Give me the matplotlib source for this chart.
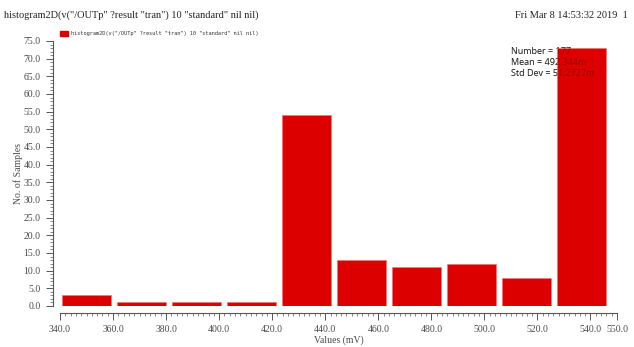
import numpy as np
import matplotlib
matplotlib.use("Agg")
import matplotlib.pyplot as plt
from matplotlib.ticker import MultipleLocator, FixedLocator

# histogram of the OUTp transient result, 10 equal bins
counts = [3, 1, 1, 1, 54, 13, 11, 12, 8, 73]
bin_lo, bin_hi = 340.6, 548.1
x_major = [340, 360, 380, 400, 420, 440, 460, 480, 500, 520, 540, 550]
y_major = [0, 5, 10, 15, 20, 25, 30, 35, 40, 45, 50, 55, 60, 65, 70, 75]
stats = ["Number = 177", "Mean = 492.344m", "Std Dev = 51.2727m"]
expr = 'histogram2D(v("/OUTp" ?result "tran") 10 "standard" nil nil)'
stamp = "Fri Mar 8 14:53:32 2019  1"

red = "#dc0000"
ink = "#4a4a4a"
serif = ["Liberation Serif", "DejaVu Serif"]

fig = plt.figure(figsize=(6.34, 3.47), dpi=100)
ax = fig.add_axes([0.0946, 0.1182, 0.8786, 0.7637])

edges = np.linspace(bin_lo, bin_hi, len(counts) + 1)
step = edges[1] - edges[0]
ax.bar(edges[:-1], counts, width=step * 0.9, align="edge",
       color=red, edgecolor="#f07070", linewidth=0.4, zorder=3)

ax.set_xlim(340, 550)
ax.set_ylim(0, 75)

for s in ("top", "right"):
    ax.spines[s].set_visible(False)
for s in ("left", "bottom"):
    ax.spines[s].set_position(("outward", 5))
    ax.spines[s].set_color("#555555")
    ax.spines[s].set_linewidth(0.8)

ax.xaxis.set_major_locator(FixedLocator(x_major))
ax.xaxis.set_minor_locator(MultipleLocator(2))
ax.yaxis.set_major_locator(FixedLocator(y_major))
ax.yaxis.set_minor_locator(MultipleLocator(1))
ax.set_xticklabels([f"{v:.1f}" for v in x_major])
ax.set_yticklabels([f"{v:.1f}" for v in y_major])
ax.tick_params(which="major", length=5, width=0.7, color="#555555",
               labelsize=7, labelcolor=ink, pad=4)
ax.tick_params(which="minor", length=2.5, width=0.5, color="#555555")
for lbl in ax.get_xticklabels() + ax.get_yticklabels():
    lbl.set_family(serif)

ax.set_xlabel("Values (mV)", fontsize=7, color=ink, family=serif, labelpad=1)
ax.set_ylabel("No. of Samples", fontsize=7, color=ink, family=serif, labelpad=0)

# statistics box sits behind the last bar and bleeds through it
for i, line in enumerate(stats):
    y = 0.962 - i * 0.042
    ax.text(0.81, y, line, transform=ax.transAxes, fontsize=6.5,
            color="#333333", family=["Open Sans", "DejaVu Sans"], zorder=2,
            va="center")
    ax.text(0.81, y, line, transform=ax.transAxes, fontsize=6.5,
            color="#000000", alpha=0.3, family=["Open Sans", "DejaVu Sans"],
            zorder=4, va="center")

# legend entry above the plot area
fig.patches.append(plt.Rectangle((60 / 634, 1 - 36 / 347), 8 / 634, 5 / 347,
                                 transform=fig.transFigure, color=red))
fig.text(71 / 634, 1 - 33.5 / 347, expr, fontsize=3.8, color="#333333",
         family="DejaVu Sans Mono", va="center")

fig.text(4 / 634, 1 - 15 / 347, expr, fontsize=7.5, color="#222222",
         family=serif, va="center")
fig.text(628 / 634, 1 - 15 / 347, stamp, fontsize=7.5, color="#222222",
         family=serif, va="center", ha="right")

fig.savefig("out.png", dpi=100, facecolor="white")
